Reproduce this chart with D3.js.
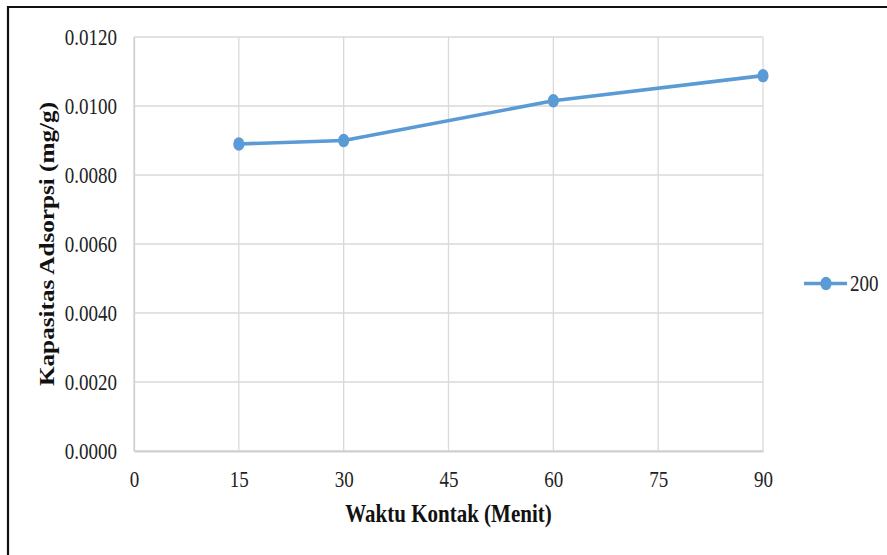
<!DOCTYPE html>
<html>
<head>
<meta charset="utf-8">
<script src="https://cdn.jsdelivr.net/npm/d3@7"></script>
<style>
  html, body { margin: 0; padding: 0; background: #fff; }
  svg { display: block; }
  .tall { transform-box: fill-box; transform-origin: center; transform: scaleY(1.2); }
</style>
</head>
<body>
<svg id="chart" width="887" height="555"></svg>
<script>
// Contact time (minutes) and adsorption capacity (mg/g)
const waktu = [15, 30, 60, 90];
const kapasitas = [0.0089, 0.0090, 0.01015, 0.01088];
const seriesName = "200";
const xTicks = [0, 15, 30, 45, 60, 75, 90];
const yTicks = [0, 0.002, 0.004, 0.006, 0.008, 0.010, 0.012];

const svg = d3.select("#chart");
const W = 887, H = 555;
const plot = { left: 134, right: 763, top: 37, bottom: 451 };
const blue = "#5b9bd5";
const font = "'Liberation Serif', 'Times New Roman', serif";
const stretch = 1.2;   // text and markers are drawn slightly tall

// outer frame (top and left edges visible)
svg.append("rect").attr("x", 0).attr("y", 0).attr("width", W).attr("height", H).attr("fill", "#fff");
svg.append("path")
  .attr("d", `M8,${H} L8,7 L${W},7`)
  .attr("fill", "none").attr("stroke", "#111").attr("stroke-width", 2.2);

const x = d3.scaleLinear().domain([0, 90]).range([plot.left, plot.right]);
const y = d3.scaleLinear().domain([0, 0.012]).range([plot.bottom, plot.top]);

// gridlines
const grid = svg.append("g");
grid.selectAll("line.h").data(yTicks).join("line")
  .attr("x1", plot.left).attr("x2", plot.right)
  .attr("y1", d => y(d)).attr("y2", d => y(d))
  .attr("stroke", "#d9d9d9").attr("stroke-width", 1.5);
grid.selectAll("line.v").data(xTicks).join("line")
  .attr("y1", plot.top).attr("y2", plot.bottom)
  .attr("x1", d => x(d)).attr("x2", d => x(d))
  .attr("stroke", "#d9d9d9").attr("stroke-width", 1.3);

// axes
const yAxis = svg.append("g").attr("transform", `translate(${plot.left},0)`)
  .call(d3.axisLeft(y).tickValues(yTicks).tickSize(0).tickPadding(17).tickFormat(d3.format(".4f")));
yAxis.select(".domain").attr("stroke", "#d0d0d0").attr("stroke-width", 1.3);
yAxis.selectAll("text").attr("font-family", font).attr("font-size", 19).attr("fill", "#222")
  .attr("class", "tall");

const xAxis = svg.append("g").attr("transform", `translate(0,${plot.bottom})`)
  .call(d3.axisBottom(x).tickValues(xTicks).tickSize(0).tickPadding(21).tickFormat(d3.format("d")));
xAxis.select(".domain").attr("stroke", "#d0d0d0").attr("stroke-width", 1.8);
xAxis.selectAll("text").attr("font-family", font).attr("font-size", 19).attr("fill", "#222")
  .attr("class", "tall");

// axis titles
svg.append("text")
  .attr("transform", `translate(448.5,522) scale(1,${stretch})`)
  .attr("text-anchor", "middle")
  .attr("font-family", font).attr("font-weight", "bold").attr("font-size", 21)
  .attr("fill", "#111").text("Waktu Kontak (Menit)");
svg.append("text")
  .attr("transform", `translate(53.5,${(plot.top + plot.bottom) / 2}) rotate(-90) scale(${stretch},1)`)
  .attr("text-anchor", "middle")
  .attr("font-family", font).attr("font-weight", "bold").attr("font-size", 21)
  .attr("fill", "#111").text("Kapasitas Adsorpsi (mg/g)");

// series
const data = waktu.map((t, i) => ({ t, v: kapasitas[i] }));
svg.append("path").datum(data)
  .attr("d", d3.line().x(d => x(d.t)).y(d => y(d.v)))
  .attr("fill", "none").attr("stroke", blue).attr("stroke-width", 3.6)
  .attr("stroke-linejoin", "round");
svg.selectAll("ellipse.pt").data(data).join("ellipse")
  .attr("cx", d => x(d.t)).attr("cy", d => y(d.v))
  .attr("rx", 5.6).attr("ry", 5.6 * stretch)
  .attr("fill", blue);

// legend
const lg = svg.append("g").attr("transform", "translate(804,283.5)");
lg.append("line").attr("x1", 0).attr("x2", 43).attr("y1", 0).attr("y2", 0)
  .attr("stroke", blue).attr("stroke-width", 3.6);
lg.append("ellipse").attr("cx", 22).attr("cy", 0).attr("rx", 5.6).attr("ry", 5.6 * stretch).attr("fill", blue);
lg.append("text").attr("x", 46).attr("y", 6.4)
  .attr("font-family", font).attr("font-size", 19).attr("fill", "#222")
  .attr("class", "tall").text(seriesName);
</script>
</body>
</html>
